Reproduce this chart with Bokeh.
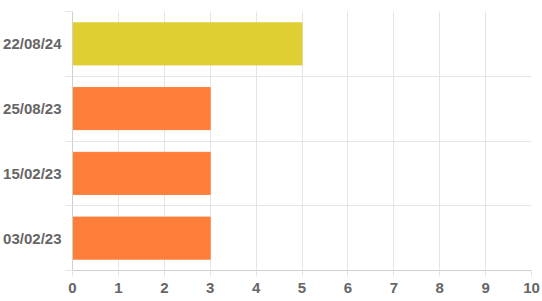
from bokeh.plotting import figure
from bokeh.models import Range1d, FixedTicker, LinearAxis
from bokeh.embed import file_html
from bokeh.resources import INLINE

categories = ["03/02/23", "15/02/23", "25/08/23", "22/08/24"]
values = [3, 3, 3, 5]
colors = ["#FF7F3A", "#FF7F3A", "#FF7F3A", "#DFCF33"]
x_ticks = list(range(0, 11))

centers = [i + 0.5 for i in range(len(categories))]
bounds = list(range(len(categories) + 1))

p = figure(width=542, height=301, output_backend="svg", toolbar_location=None,
           x_range=Range1d(0, 10), y_range=Range1d(0, len(categories)),
           min_border_left=72, min_border_right=11, min_border_top=11, min_border_bottom=31)
p.outline_line_color = None

p.hbar(y=centers, left=0, right=values, height=0.65, fill_color=colors, line_color=colors)

grid_color = "#E5E5E5"
axis_color = "#CFCFCF"
font = "Liberation Sans"

# x axis
p.xaxis.ticker = FixedTicker(ticks=x_ticks)
p.xaxis.axis_line_color = axis_color
p.xaxis.major_tick_line_color = grid_color
p.xaxis.major_tick_in = 0
p.xaxis.major_tick_out = 6
p.xaxis.minor_tick_line_color = None
p.xaxis.major_label_text_font = font
p.xaxis.major_label_text_font_style = "bold"
p.xaxis.major_label_text_font_size = "15px"
p.xaxis.major_label_text_color = "#666666"
p.xaxis.major_label_standoff = 6
p.xgrid.ticker = FixedTicker(ticks=x_ticks)
p.xgrid.grid_line_color = grid_color

# y axis: inner with boundary ticks
p.yaxis.ticker = FixedTicker(ticks=bounds)
p.yaxis.major_label_overrides = {b: "" for b in bounds}
p.yaxis.major_label_text_font_size = "0px"
p.yaxis.major_label_standoff = 0
p.yaxis.axis_line_color = axis_color
p.yaxis.major_tick_line_color = grid_color
p.yaxis.major_tick_in = 0
p.yaxis.major_tick_out = 7
p.yaxis.minor_tick_line_color = None
p.ygrid.ticker = FixedTicker(ticks=bounds)
p.ygrid.grid_line_color = grid_color

# outer label axis
lab = LinearAxis(ticker=FixedTicker(ticks=centers),
                 major_label_overrides={c: n for c, n in zip(centers, categories)})
lab.axis_line_color = None
lab.major_tick_line_color = None
lab.major_tick_in = 0
lab.major_tick_out = 0
lab.minor_tick_line_color = None
lab.major_label_standoff = 4
lab.major_label_text_font = font
lab.major_label_text_font_style = "bold"
lab.major_label_text_font_size = "15px"
lab.major_label_text_color = "#666666"
p.add_layout(lab, "left")

open("out.html", "w").write(file_html(p, INLINE))
